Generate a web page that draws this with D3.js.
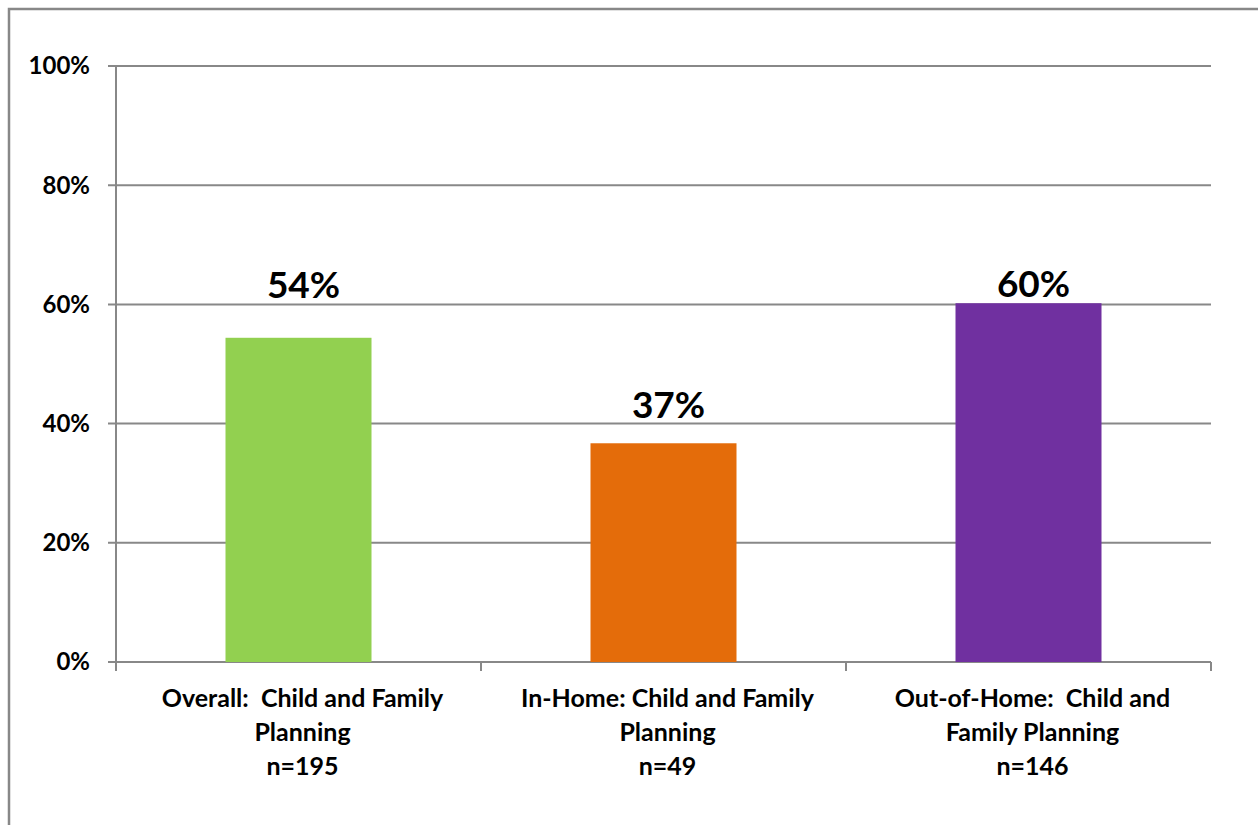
<!DOCTYPE html>
<html><head><meta charset="utf-8">
<script src="https://cdn.jsdelivr.net/npm/d3@7"></script>
<style>body{margin:0;background:#fff}svg{display:block}text{font-family:Lato,"Open Sans",sans-serif;font-weight:bold;fill:#000;white-space:pre}</style>
</head><body><svg id="c" width="1258" height="825"></svg>
<script>
const categories = [["Overall:  Child and Family","Planning","n=195"],["In-Home: Child and Family","Planning","n=49"],["Out-of-Home:  Child and","Family Planning","n=146"]];
const values = [0.544, 0.367, 0.602];
const labels = ["54%","37%","60%"];
const colors = ["#92D050","#E46C0A","#7030A0"];
const yTicks = [0,0.2,0.4,0.6,0.8,1.0];
const labelGap = [40, 25, 6]; // label baseline distance above bar top (manually positioned in original)

const svg = d3.select("#c");
svg.append("rect").attr("x",9).attr("y",9).attr("width",1260).attr("height",830).attr("fill","none").attr("stroke","#888").attr("stroke-width",2.5);
const L=116,R=1211,T=66,B=662;
const x = d3.scaleBand().domain(d3.range(categories.length)).range([L,R]).paddingInner(0.6).paddingOuter(0.3);
const xb = d3.scaleBand().domain(d3.range(categories.length)).range([L,R]);
const y = d3.scaleLinear().domain([0,1]).range([B,T]);

svg.append("g").selectAll("line").data(yTicks).join("line")
 .attr("x1",108).attr("x2",R).attr("y1",d=>y(d)).attr("y2",d=>y(d)).attr("stroke","#888").attr("stroke-width",2);
svg.append("line").attr("x1",L).attr("x2",L).attr("y1",T).attr("y2",B+9).attr("stroke","#888").attr("stroke-width",2);
svg.append("g").selectAll("line").data(d3.range(categories.length+1)).join("line")
 .attr("x1",d=>L+d*xb.bandwidth()).attr("x2",d=>L+d*xb.bandwidth()).attr("y1",B).attr("y2",B+9).attr("stroke","#888").attr("stroke-width",2);
svg.append("g").selectAll("text").data(yTicks).join("text")
 .attr("x",90).attr("y",d=>y(d)).attr("dy","0.35em").attr("text-anchor","end").style("font-size","24px")
 .text(d=>d3.format(".0%")(d));

svg.append("g").selectAll("rect").data(values).join("rect")
 .attr("x",(d,i)=>x(i)).attr("width",x.bandwidth()).attr("y",d=>y(d)).attr("height",d=>B-y(d)).attr("fill",(d,i)=>colors[i]);
svg.append("g").selectAll("text").data(values).join("text")
 .attr("x",(d,i)=>x(i)+x.bandwidth()/2+5).attr("y",(d,i)=>y(d)-labelGap[i]).attr("text-anchor","middle").style("font-size","37px")
 .text((d,i)=>labels[i]);

const cg = svg.append("g").selectAll("text").data(categories).join("text")
 .attr("x",(d,i)=>xb(i)+xb.bandwidth()/2+4).attr("y",707).attr("text-anchor","middle").style("font-size","25px");
cg.selectAll("tspan").data(d=>d).join("tspan").attr("x",function(){return this.parentNode.getAttribute("x")}).attr("dy",(d,i)=>i?34:0).text(d=>d);
</script></body></html>
